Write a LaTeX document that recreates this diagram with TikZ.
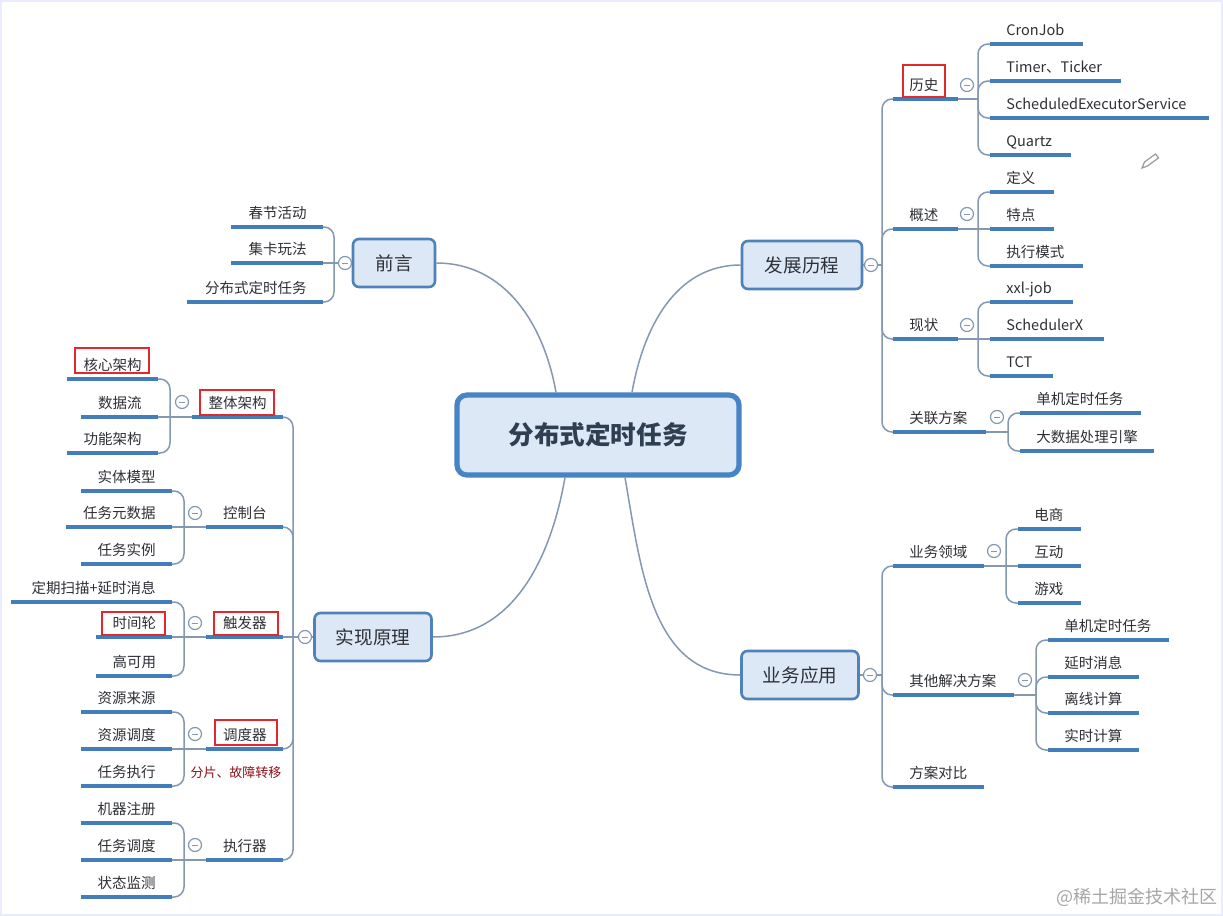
\documentclass[tikz,border=0pt]{standalone}
\usepackage{fontspec}
\setmainfont{Noto Sans CJK SC}
\usepackage{xcolor}
\usetikzlibrary{positioning,calc}

\definecolor{ulblue}{RGB}{68,126,186}
\definecolor{linegray}{RGB}{132,152,178}
\definecolor{boxfill}{RGB}{220,232,246}
\definecolor{boxedge}{RGB}{80,130,186}
\definecolor{rootedge}{RGB}{70,132,198}
\definecolor{roottext}{RGB}{48,62,82}
\definecolor{markred}{RGB}{226,40,44}
\definecolor{notered}{RGB}{140,18,28}
\definecolor{txt}{RGB}{46,48,54}
\exhyphenpenalty=10000
\hyphenpenalty=10000

\begin{document}
\begin{tikzpicture}[
  x=0.5pt, y=-0.5pt,
  root/.style={rectangle, draw=rootedge, line width=2.6pt, fill=boxfill, rounded corners=5pt, minimum width=141pt, minimum height=40pt, text=roottext, font=\fontsize{12.8}{15}\selectfont\bfseries},
  branch/.style={rectangle, draw=boxedge, line width=1.3pt, fill=boxfill, rounded corners=3pt, minimum width=#1, minimum height=24pt, text=txt, font=\fontsize{9.3}{11}\selectfont},
  topic/.style={inner xsep=8pt, inner ysep=2.5pt, text height=5.5pt, text depth=1.5pt, text width=#1*0.5pt-16pt, text=txt, font=\fontsize{7.25}{9}\selectfont},
  rt/.style={topic=#1, anchor=south west, align=left},
  lt/.style={topic=#1, anchor=south east, align=right},
  fold/.style={circle, draw=linegray, line width=0.6pt, fill=white, minimum size=6.5pt, inner sep=0pt,
    path picture={\draw[linegray, line width=0.5pt] ([xshift=-1.5pt]path picture bounding box.center) -- ([xshift=1.5pt]path picture bounding box.center);}},
  conn/.style={draw=linegray, line width=0.75pt},
  elbow/.style={conn, rounded corners=5pt},
  uline/.style={draw=ulblue, line width=2pt},
  redbox/.style={draw=markred, line width=1.2pt},
  redtext/.style={text=notered, font=\fontsize{6.5}{8}\selectfont}
]
\fill[white] (0,0) rectangle (1223,916);
\useasboundingbox (0,0) rectangle (1223,916);
\draw[blue!8, line width=1pt] (1,1) rectangle (1222,915);

\node[root] (task) at (598,435) {分布式定时任务};
\node[branch=41pt] (pre) at (394,263) {前言};
\node[branch=60pt] (dev) at (802,265) {发展历程};
\node[branch=58.5pt] (impl) at (373,637) {实现原理};
\node[branch=58.5pt] (app) at (800,675) {业务应用};

\node[lt=91] (spring) at (323,227) {春节活动};
\node[lt=91] (card) at (323,263) {集卡玩法};
\node[lt=135] (dtask) at (323,302) {分布式定时任务};

\node[rt=64] (hist) at (893,99) {历史};
\node[rt=64] (ovw) at (893,229) {概述};
\node[rt=64] (stat) at (893,339) {现状};
\node[rt=92] (rel) at (893,432) {关联方案};
\node[rt=92] (cron) at (990,44) {CronJob};
\node[rt=130] (timer) at (990,81) {Timer、Ticker};
\node[rt=218] (sexec) at (990,118) {ScheduledExecutorService};
\node[rt=80] (quartz) at (990,155) {Quartz};
\node[rt=63] (defn) at (990,192) {定义};
\node[rt=63] (feat) at (990,229) {特点};
\node[rt=92] (emode) at (990,266) {执行模式};
\node[rt=82] (xxl) at (990,302) {xxl-job};
\node[rt=113] (schx) at (990,339) {SchedulerX};
\node[rt=62] (tct) at (990,376) {TCT};
\node[rt=120] (solo) at (1020,413) {单机定时任务};
\node[rt=133] (bigd) at (1020,451) {大数据处理引擎};

\node[rt=90] (dom) at (893,566) {业务领域};
\node[rt=120] (other) at (893,695) {其他解决方案};
\node[rt=90] (cmp) at (893,787) {方案对比};
\node[rt=62] (ecom) at (1018,529) {电商};
\node[rt=62] (inter) at (1018,566) {互动};
\node[rt=62] (game) at (1018,603) {游戏};
\node[rt=120] (solo2) at (1048,640) {单机定时任务};
\node[rt=90] (delay) at (1048,677) {延时消息};
\node[rt=90] (offl) at (1048,713) {离线计算};
\node[rt=90] (rtc) at (1048,750) {实时计算};

\node[lt=90] (arch) at (283,417) {整体架构};
\node[lt=76] (ctl) at (283,527) {控制台};
\node[lt=76] (trig) at (283,637) {触发器};
\node[lt=76] (sdlr) at (283,749) {调度器};
\node[lt=76] (runr) at (283,860) {执行器};
\node[lt=90] (core) at (158,379) {核心架构};
\node[lt=76] (dflow) at (158,417) {数据流};
\node[lt=90] (farch) at (158,453) {功能架构};
\node[lt=90] (ent) at (172,491) {实体模型};
\node[lt=105] (meta) at (172,527) {任务元数据};
\node[lt=90] (inst) at (172,564) {任务实例};
\node[lt=160] (scan) at (172,602) {定期扫描+延时消息};
\node[lt=75] (wheel) at (172,637) {时间轮};
\node[lt=75] (ha) at (172,676) {高可用};
\node[lt=90] (rsrc) at (172,712) {资源来源};
\node[lt=90] (rdis) at (172,749) {资源调度};
\node[lt=90] (texec) at (172,786) {任务执行};
\node[lt=90] (reg) at (172,823) {机器注册};
\node[lt=90] (tdis) at (172,860) {任务调度};
\node[lt=90] (mon) at (172,897) {状态监测};
\node[redtext] (shard) at (236,773) {分片、故障转移};

\coordinate (prej) at (334,263);
\coordinate (devj) at (882,265);
\coordinate (implj) at (293,637);
\coordinate (appj) at (882,675);
\coordinate (histj) at (978,99);
\coordinate (ovwj) at (978,229);
\coordinate (statj) at (978,339);
\coordinate (relj) at (1008,432);
\coordinate (domj) at (1006,566);
\coordinate (otherj) at (1036,695);
\coordinate (archj) at (170,417);
\coordinate (ctlj) at (184,527);
\coordinate (trigj) at (184,637);
\coordinate (sdlrj) at (184,749);
\coordinate (runrj) at (184,860);

\draw[conn] (pre.east) to[out=0, in=100] ([xshift=-21pt]task.north);
\draw[conn] (dev.west) to[out=180, in=80] ([xshift=17pt]task.north);
\draw[conn] (impl.east) to[out=0, in=-100] ([xshift=-16.5pt]task.south);
\draw[conn] (app.west) to[out=180, in=-80] ([xshift=13.5pt]task.south);

\draw[conn] (pre.west) -- (card.south east);
\foreach \t in {spring,dtask} \draw[elbow] (prej) |- (\t.south east);

\draw[conn] (dev.east) -- (devj);
\foreach \t in {hist,ovw,stat,rel} \draw[elbow] (devj) |- (\t.south west);
\draw[conn] (hist.south east) -- (histj);
\foreach \t in {cron,timer,sexec,quartz} \draw[elbow] (histj) |- (\t.south west);
\draw[conn] (ovw.south east) -- (feat.south west);
\foreach \t in {defn,emode} \draw[elbow] (ovwj) |- (\t.south west);
\draw[conn] (stat.south east) -- (schx.south west);
\foreach \t in {xxl,tct} \draw[elbow] (statj) |- (\t.south west);
\draw[conn] (rel.south east) -- (relj);
\foreach \t in {solo,bigd} \draw[elbow] (relj) |- (\t.south west);

\draw[conn] (app.east) -- (appj);
\foreach \t in {dom,other,cmp} \draw[elbow] (appj) |- (\t.south west);
\draw[conn] (dom.south east) -- (inter.south west);
\foreach \t in {ecom,game} \draw[elbow] (domj) |- (\t.south west);
\draw[conn] (other.south east) -- (otherj);
\foreach \t in {solo2,delay,offl,rtc} \draw[elbow] (otherj) |- (\t.south west);

\draw[conn] (impl.west) -- (trig.south east);
\foreach \t in {arch,ctl,sdlr,runr} \draw[elbow] (implj) |- (\t.south east);
\draw[conn] (arch.south west) -- (dflow.south east);
\foreach \t in {core,farch} \draw[elbow] (archj) |- (\t.south east);
\draw[conn] (ctl.south west) -- (meta.south east);
\foreach \t in {ent,inst} \draw[elbow] (ctlj) |- (\t.south east);
\draw[conn] (trig.south west) -- (wheel.south east);
\foreach \t in {scan,ha} \draw[elbow] (trigj) |- (\t.south east);
\draw[conn] (sdlr.south west) -- (rdis.south east);
\foreach \t in {rsrc,texec} \draw[elbow] (sdlrj) |- (\t.south east);
\draw[conn] (runr.south west) -- (tdis.south east);
\foreach \t in {reg,mon} \draw[elbow] (runrj) |- (\t.south east);

\foreach \t in {spring,card,dtask,hist,ovw,stat,rel,cron,timer,sexec,quartz,defn,feat,emode,xxl,schx,tct,solo,bigd,dom,other,cmp,ecom,inter,game,solo2,delay,offl,rtc,arch,ctl,trig,sdlr,runr,core,dflow,farch,ent,meta,inst,scan,wheel,ha,rsrc,rdis,texec,reg,tdis,mon}
  \draw[uline] (\t.south west) -- (\t.south east);

\node[fold] (pref) at (345,263) {};
\node[fold] (devf) at (871,265) {};
\node[fold] (implf) at (305,637) {};
\node[fold] (appf) at (870,675) {};
\node[fold] (histf) at (967,85) {};
\node[fold] (ovwf) at (967,214) {};
\node[fold] (statf) at (967,325) {};
\node[fold] (relf) at (997,417) {};
\node[fold] (domf) at (994,551) {};
\node[fold] (otherf) at (1025,680) {};
\node[fold] (archf) at (182,402) {};
\node[fold] (ctlf) at (195,513) {};
\node[fold] (trigf) at (195,623) {};
\node[fold] (sdlrf) at (195,734) {};
\node[fold] (runrf) at (195,845) {};

\draw[redbox] (903,65) rectangle (945,97);
\draw[redbox] (75,348) rectangle (149,373);
\draw[redbox] (200,390) rectangle (274,415);
\draw[redbox] (102,612) rectangle (165,635);
\draw[redbox] (214,612) rectangle (278,635);
\draw[redbox] (215,720) rectangle (277,745);

\draw[gray!80, line width=0.6pt] (1142,168) -- (1144.5,162) -- (1155.5,154) -- (1158.5,158) -- (1147.5,166) -- cycle;
\node[text=gray!70, font=\fontsize{9}{11}\selectfont] (wmark) at (1137,897) {@稀土掘金技术社区};
\end{tikzpicture}
\end{document}
